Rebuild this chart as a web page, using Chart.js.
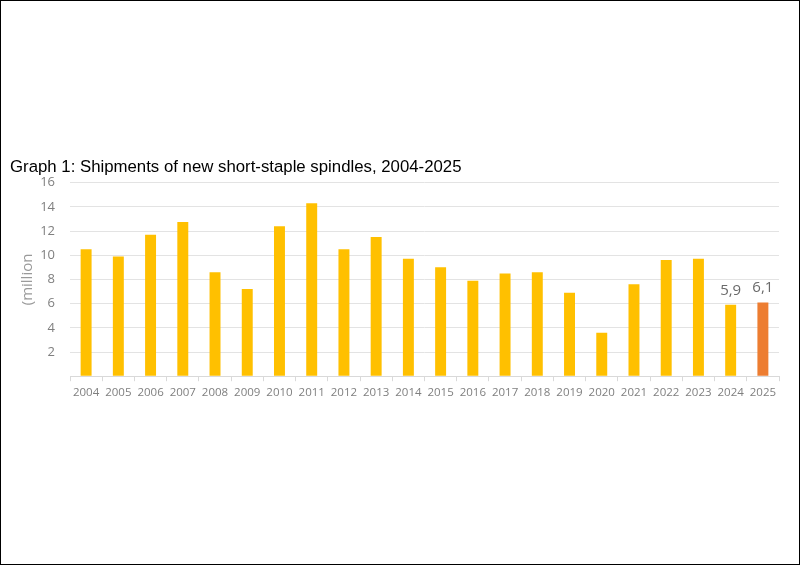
<!DOCTYPE html>
<html>
<head>
<meta charset="utf-8">
<script src="https://cdn.jsdelivr.net/npm/chart.js@4"></script>
<style>
  html, body { margin: 0; padding: 0; background: #fff; }
  #wrap { width: 798px; height: 563px; border: 1px solid #000; position: relative; }
  canvas { display: block; }
</style>
</head>
<body>
<div id="wrap"><canvas id="c" width="798" height="563"></canvas></div>
<script>
const years = ['2004','2005','2006','2007','2008','2009','2010','2011','2012','2013','2014','2015','2016','2017','2018','2019','2020','2021','2022','2023','2024','2025'];
const shipments = [10.5, 9.9, 11.7, 12.75, 8.6, 7.2, 12.4, 14.3, 10.5, 11.5, 9.7, 9.0, 7.9, 8.5, 8.6, 6.9, 3.6, 7.6, 9.6, 9.7, 5.9, 6.1];
const labelled = ['5,9', '6,1'];   // labels shown on the last two bars
const yTicks = [0, 2, 4, 6, 8, 10, 12, 14, 16];
const titleText = 'Graph 1: Shipments of new short-staple spindles, 2004-2025';
const yTitle = '(million';

const barColors = years.map((y, i) => i === years.length - 1 ? '#ED7D31' : '#FFC000');

const valueLabels = {
  id: 'valueLabels',
  afterDatasetsDraw(chart) {
    const ctx = chart.ctx;
    const meta = chart.getDatasetMeta(0);
    const n = meta.data.length;
    ctx.save();
    ctx.font = '15px "Open Sans", sans-serif';
    ctx.fillStyle = '#6a6a6a';
    ctx.textAlign = 'center';
    ctx.textBaseline = 'bottom';
    labelled.forEach((txt, k) => {
      const el = meta.data[n - labelled.length + k];
      ctx.fillText(txt, el.x, el.y - 7);
    });
    ctx.restore();
  }
};

new Chart(document.getElementById('c'), {
  type: 'bar',
  data: {
    labels: years,
    datasets: [{
      data: shipments,
      backgroundColor: barColors,
      barPercentage: 0.34,
      categoryPercentage: 1.0
    }]
  },
  options: {
    responsive: false,
    animation: false,
    layout: { padding: { left: 9, right: 20, top: 0, bottom: 159 } },
    plugins: {
      legend: { display: false },
      tooltip: { enabled: false },
      title: {
        display: true,
        text: titleText,
        align: 'start',
        color: '#000000',
        font: { family: '"Liberation Sans", Arial, sans-serif', size: 16.8, weight: 'normal' },
        padding: { top: 156.5, bottom: 5 }
      }
    },
    scales: {
      x: {
        grid: { display: true, drawOnChartArea: false, drawTicks: true, tickLength: 5, color: '#d9d9d9', offset: true },
        border: { display: true, color: '#d9d9d9' },
        ticks: { color: '#7f7f7f', font: { family: '"Open Sans", sans-serif', size: 11.5 }, padding: 5, maxRotation: 0, autoSkip: false }
      },
      y: {
        min: 0, max: 16,
        afterBuildTicks(scale) { scale.ticks = yTicks.map(v => ({ value: v })); },
        afterFit(scale) { scale.width = 60; },
        grid: { color: '#e3e3e3', drawTicks: false },
        border: { display: false },
        ticks: {
          color: '#7f7f7f',
          font: { family: '"Open Sans", sans-serif', size: 13 },
          padding: 15,
          callback: v => v === 0 ? '' : v
        },
        title: {
          display: true,
          text: yTitle,
          color: '#9a9a9a',
          font: { family: '"Open Sans", sans-serif', size: 15 },
          padding: { top: 9, bottom: 0 }
        }
      }
    }
  },
  plugins: [valueLabels]
});
</script>
</body>
</html>
